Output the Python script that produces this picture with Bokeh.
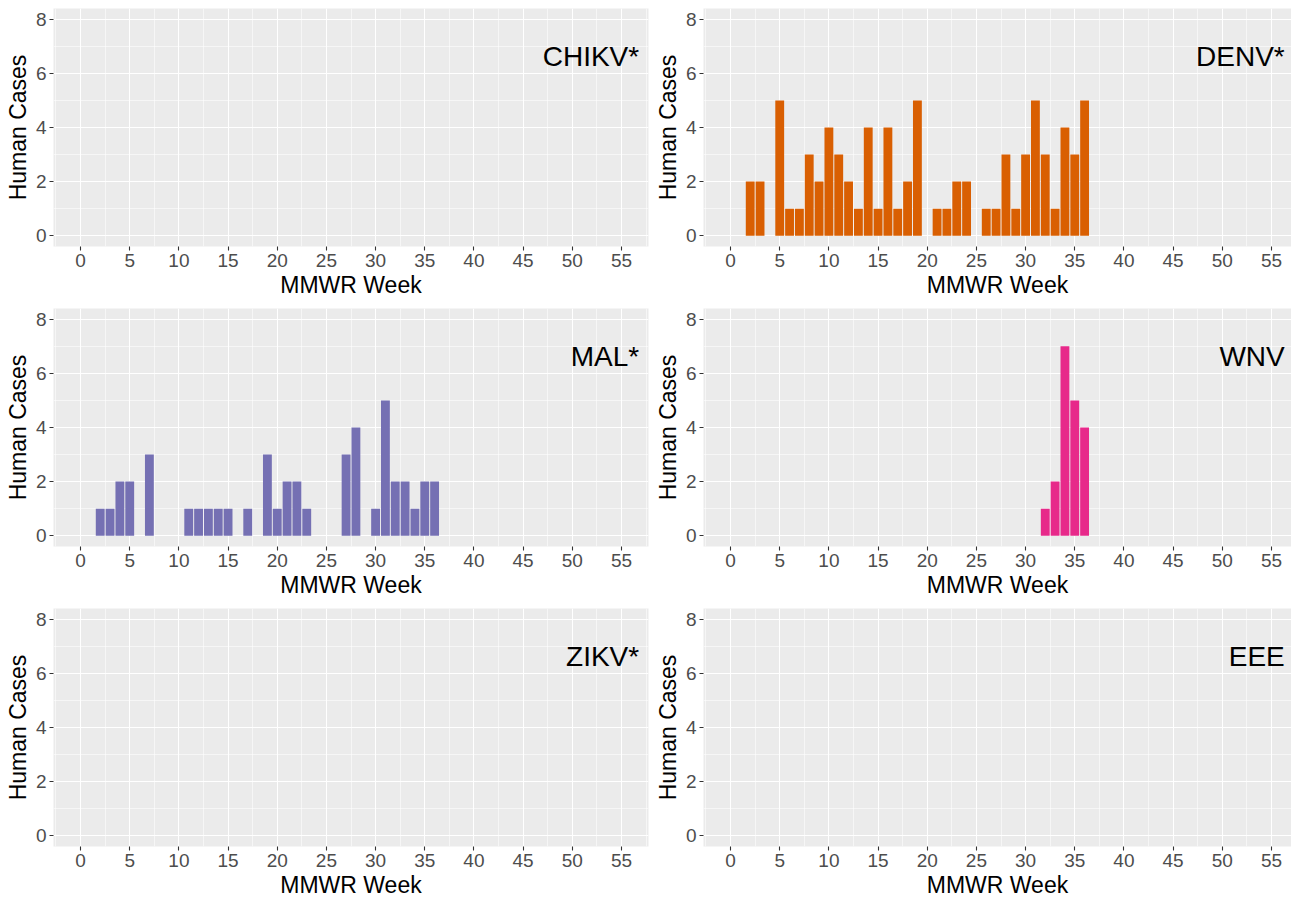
from bokeh.plotting import figure
from bokeh.models import Range1d, SingleIntervalTicker, ColumnDataSource, Label
from bokeh.layouts import gridplot
from bokeh.embed import file_html
from bokeh.resources import INLINE

# ---- data ----
weeks = list(range(1, 37))
chikv_cases = []
denv_cases = [0, 2, 2, 0, 5, 1, 1, 3, 2, 4, 3, 2, 1, 4, 1, 4, 1, 2,
              5, 0, 1, 1, 2, 2, 0, 1, 1, 3, 1, 3, 5, 3, 1, 4, 3, 5]
mal_cases = [0, 1, 1, 2, 2, 0, 3, 0, 0, 0, 1, 1, 1, 1, 1, 0, 1, 0,
             3, 1, 2, 2, 1, 0, 0, 0, 3, 4, 0, 1, 5, 2, 2, 1, 2, 2]
wnv_cases = [0] * 31 + [1, 2, 7, 5, 4]
zikv_cases = []
eee_cases = []

panel_names = ["CHIKV*", "DENV*", "MAL*", "WNV", "ZIKV*", "EEE"]
panel_cases = [chikv_cases, denv_cases, mal_cases, wnv_cases, zikv_cases, eee_cases]
panel_colors = ["#1B9E77", "#D95F02", "#7570B3", "#E7298A", "#66A61E", "#E6AB02"]

x_label = "MMWR Week"
y_label = "Human Cases"

FONT = "Liberation Sans"
PX_PER_UNIT = 595 / 60.5


def make_panel(name, cases, color, col, rowi):
    fw = 595 if col == 0 else 588
    rb = 2 if col == 0 else 0
    bb = 54 if rowi < 2 else 50
    x_end = -2.75 + fw / PX_PER_UNIT
    p = figure(frame_width=fw, frame_height=238,
               min_border_left=53, min_border_right=rb,
               min_border_top=8, min_border_bottom=bb,
               x_range=Range1d(-2.75, x_end), y_range=Range1d(-0.4, 8.4),
               output_backend="svg", toolbar_location=None, tools="")
    p.background_fill_color = "#EBEBEB"
    p.border_fill_color = "white"
    p.outline_line_color = None

    p.xaxis.ticker = SingleIntervalTicker(interval=5, num_minor_ticks=2)
    p.yaxis.ticker = SingleIntervalTicker(interval=2, num_minor_ticks=2)

    for g in (p.xgrid, p.ygrid):
        g.grid_line_color = "white"
        g.grid_line_width = 1.1
        g.minor_grid_line_color = "white"
        g.minor_grid_line_width = 0.55

    for ax in (p.xaxis, p.yaxis):
        ax.axis_line_color = None
        ax.major_tick_line_color = "#333333"
        ax.major_tick_line_width = 1.1
        ax.major_tick_out = 4
        ax.major_tick_in = 0
        ax.minor_tick_line_color = None
        ax.major_label_text_color = "#4D4D4D"
        ax.major_label_text_font_size = "19px"
        ax.major_label_text_font = FONT
        ax.axis_label_text_font_size = "23px"
        ax.axis_label_text_font = FONT
        ax.axis_label_text_font_style = "normal"
        ax.axis_label_text_color = "black"
        ax.major_label_standoff = 3
        ax.axis_label_standoff = 2

    p.xaxis.axis_label = x_label
    p.yaxis.axis_label = y_label

    if cases:
        wk = [w for w, c in zip(weeks, cases) if c > 0]
        cs = [c for c in cases if c > 0]
        src = ColumnDataSource(dict(week=wk, cases=cs))
        p.vbar(x="week", top="cases", width=0.9, source=src,
               fill_color=color, line_color=None)

    lx = 56.8 if col == 0 else 56.35
    p.add_layout(Label(x=lx, y=6.62, text=name, text_align="right",
                       text_baseline="alphabetic", text_font=FONT,
                       text_font_size="28px", text_color="black"))
    return p


figs = [make_panel(n, c, col, i % 2, i // 2)
        for i, (n, c, col) in enumerate(zip(panel_names, panel_cases, panel_colors))]

grid = gridplot([[figs[0], figs[1]], [figs[2], figs[3]], [figs[4], figs[5]]],
                toolbar_location=None)

open("out.html", "w").write(file_html(grid, INLINE))
